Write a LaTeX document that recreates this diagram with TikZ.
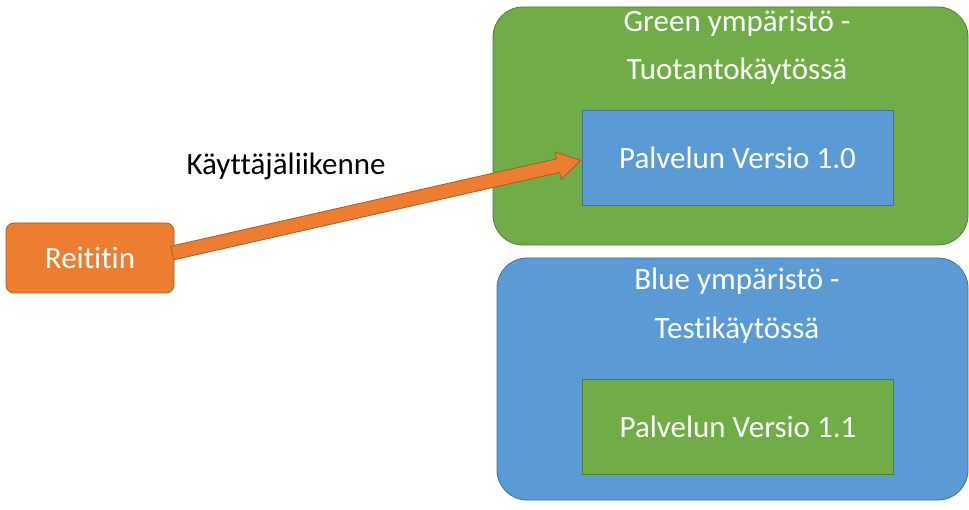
\documentclass[tikz,border=0pt]{standalone}
\usepackage{fontspec}
\setmainfont{Carlito}[Ligatures={NoCommon},RawFeature={-liga}]
\usetikzlibrary{calc}
\definecolor{oorange}{HTML}{ED7D31}
\definecolor{oorangeb}{HTML}{AE5A21}
\definecolor{ggreen}{HTML}{70AD47}
\definecolor{ggreenb}{HTML}{507E32}
\definecolor{bblue}{HTML}{5B9BD5}
\definecolor{bblueb}{HTML}{41719C}
\tikzset{
  envbox/.style={rounded corners=30pt, line width=0.8pt, inner sep=0pt},
  svcbox/.style={rectangle, line width=0.8pt, inner sep=0pt, minimum width=311pt, minimum height=95pt, text=white, font=\fontsize{31}{36}\selectfont},
  titletxt/.style={anchor=base, text=white, inner sep=0pt, font=\fontsize{31}{36}\selectfont},
  routerbox/.style={rectangle, rounded corners=8pt, fill=oorange, draw=oorangeb, line width=0.8pt, minimum width=168pt, minimum height=70pt, text=white, font=\fontsize{31}{36}\selectfont},
  plaintxt/.style={anchor=base, text=black, inner sep=0pt, font=\fontsize{31}{36}\selectfont}
}
\begin{document}
\begin{tikzpicture}[x=1pt,y=-1pt]
\useasboundingbox[fill=white] (0,0) rectangle (969,510);
% environments
\draw[envbox, fill=ggreen, draw=ggreenb] (493,7) rectangle (968,245);
\draw[envbox, fill=bblue, draw=bblueb] (497,258) rectangle (968,500);
\node[titletxt] (gt1) at (737,32) {Green ympäristö -};
\node[titletxt] (gt2) at (737,80) {Tuotantokäytössä};
\node[titletxt] (bt1) at (737,290) {Blue ympäristö -};
\node[titletxt] (bt2) at (737,339) {Testikäytössä};
% services
\node[svcbox, fill=bblue, draw=bblueb] (v10) at (737.5,157.5) {Palvelun Versio 1.0};
\node[svcbox, fill=ggreen, draw=ggreenb] (v11) at (738,426.5) {Palvelun Versio 1.1};
% router
\node[routerbox] (r) at (90,258) {Reititin};
\node[plaintxt] (lbl) at (286,175) {Käyttäjäliikenne};
% arrow
\coordinate (a) at ($(r.east)+(-2,-5)$);
\coordinate (b) at ($(v10.west)+(-1,3)$);
\coordinate (h) at ($(b)!23pt!(a)$);
\draw[fill=oorange, draw=oorangeb, line width=0.8pt, line join=miter]
  ($(a)!7pt!90:(b)$) -- ($(h)!7pt!-90:(a)$) -- ($(h)!14pt!-90:(a)$) -- (b)
  -- ($(h)!14pt!90:(a)$) -- ($(h)!7pt!90:(a)$) -- ($(a)!7pt!-90:(b)$) -- cycle;
\end{tikzpicture}
\end{document}
